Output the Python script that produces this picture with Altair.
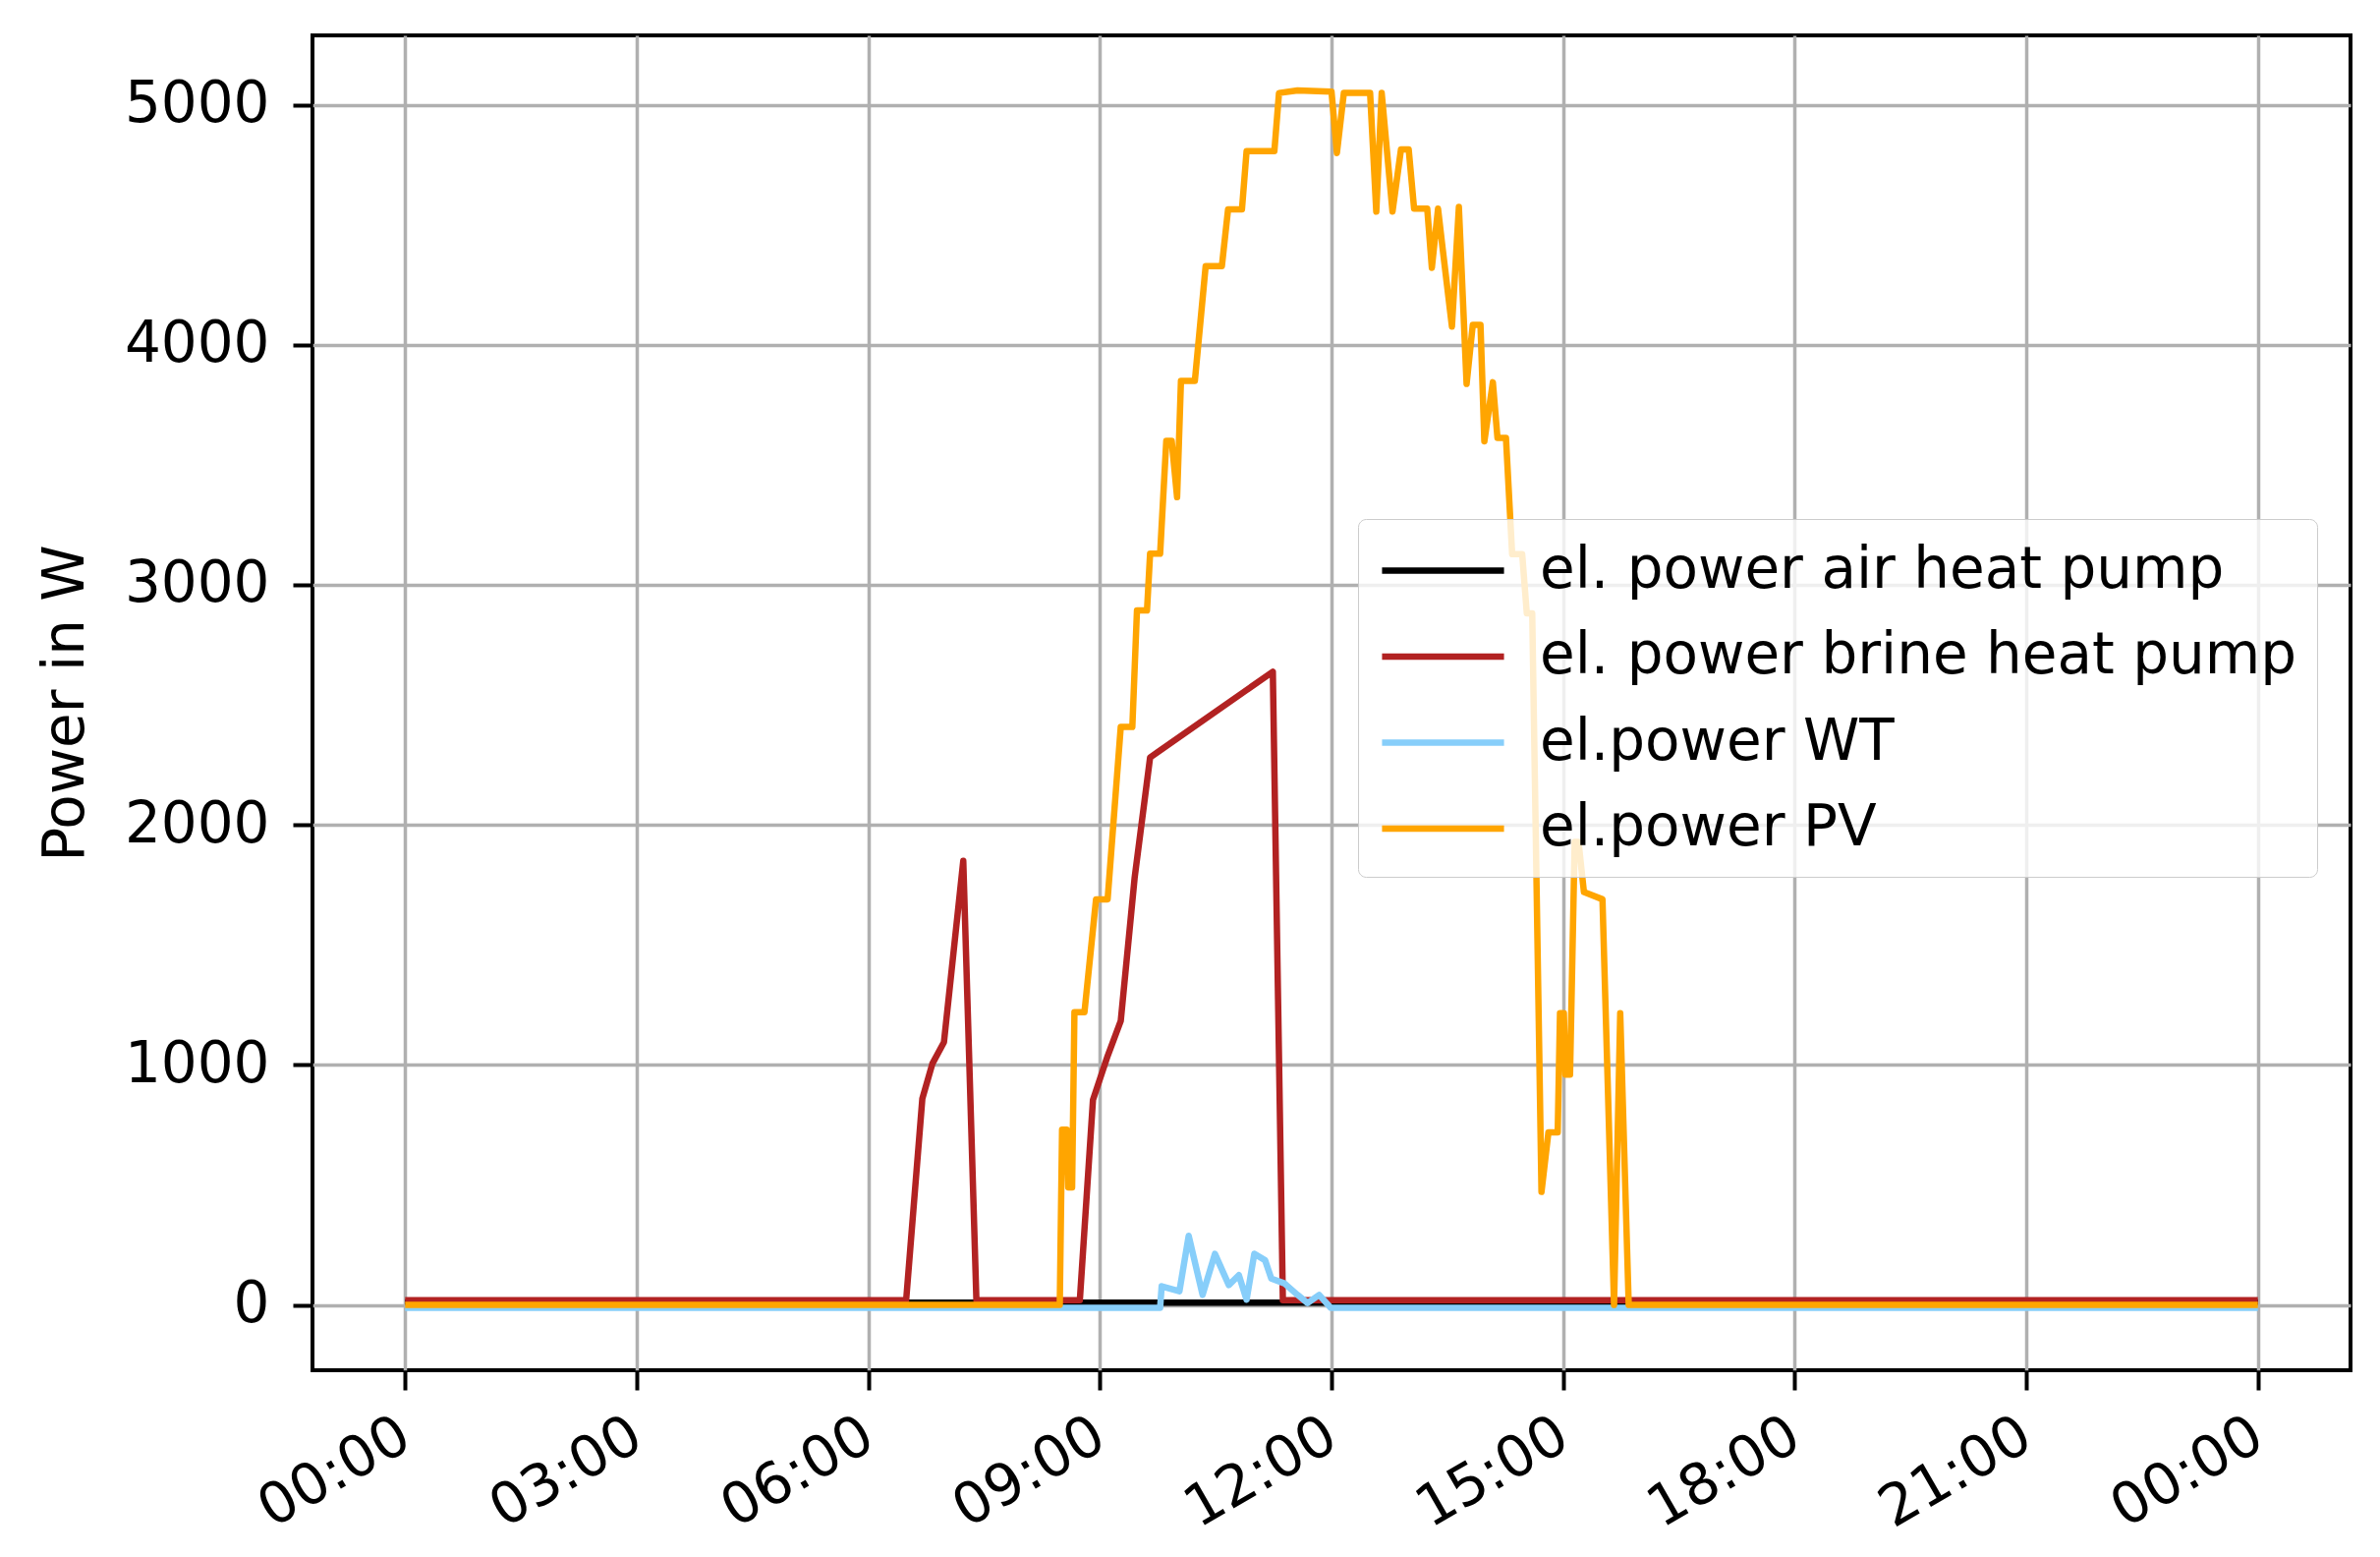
import altair as alt
import pandas as pd

series_names = ["el. power air heat pump", "el. power brine heat pump", "el.power WT", "el.power PV"]
series_colors = ["#000000", "#b22222", "#87cefa", "#ffa500"]

air_hours = [0, 24]
air_watts = [10, 10]

brine_hours = [0, 6.49, 6.70, 6.83, 6.98, 7.23, 7.40, 8.74, 8.91, 9.10, 9.27, 9.45, 9.65, 11.24, 11.37, 24]
brine_watts = [20, 20, 860, 1005, 1095, 1850, 20, 20, 854, 1037, 1183, 1780, 2281, 2638, 20, 20]

wt_hours = [0, 9.78, 9.80, 10.03, 10.15, 10.33, 10.49, 10.67, 10.80, 10.90, 11.00, 11.14, 11.22,
            11.39, 11.56, 11.69, 11.84, 11.99, 24]
wt_watts = [-12, -12, 78, 57, 288, 42, 213, 83, 124, 22, 213, 186, 110, 90, 42, 8, 42, -12, -12]

pv_hours = [0, 8.48, 8.51, 8.57, 8.59, 8.64, 8.67, 8.80, 8.95, 9.10, 9.27, 9.42, 9.48, 9.61, 9.65, 9.78,
            9.86, 9.93, 10.00, 10.05, 10.23, 10.37, 10.58, 10.66, 10.84, 10.90, 11.26, 11.32, 11.56, 12.00,
            12.07, 12.16, 12.50, 12.58, 12.65, 12.79, 12.90, 13.00, 13.07, 13.24, 13.30, 13.38, 13.44,
            13.56, 13.65, 13.75, 13.83, 13.93, 13.98, 14.09, 14.15, 14.26, 14.34, 14.47, 14.53, 14.60,
            14.72, 14.81, 14.93, 14.96, 15.01, 15.03, 15.09, 15.15, 15.20, 15.27, 15.51, 15.66, 15.74,
            15.85, 24]
pv_watts = [0, 0, 730, 730, 490, 490, 1220, 1220, 1690, 1690, 2408, 2408, 2893, 2893, 3130, 3130,
            3600, 3600, 3365, 3850, 3850, 4328, 4328, 4564, 4564, 4807, 4807, 5049, 5060, 5055,
            4799, 5049, 5049, 4555, 5049, 4555, 4814, 4814, 4567, 4567, 4321, 4567, 4400,
            4076, 4574, 3837, 4083, 4083, 3598, 3844, 3612, 3612, 3128, 3128, 2881, 2881,
            471, 719, 719, 1216, 1216, 960, 960, 1929, 1929, 1720, 1690, 0, 1216,
            0, 0]

x_ticks = [0, 3, 6, 9, 12, 15, 18, 21, 24]
y_ticks = [0, 1000, 2000, 3000, 4000, 5000]

frames = []
for name, hrs, vals in [
    (series_names[0], air_hours, air_watts),
    (series_names[1], brine_hours, brine_watts),
    (series_names[2], wt_hours, wt_watts),
    (series_names[3], pv_hours, pv_watts),
]:
    frames.append(pd.DataFrame({"hour": hrs, "watt": vals, "series": name}))

FONT = "DejaVu Sans"
FS = 58

x_enc = alt.X(
    "hour:Q",
    scale=alt.Scale(domain=[-1.2, 25.2], nice=False, zero=False),
    axis=alt.Axis(
        values=x_ticks,
        labelExpr="(datum.value % 24 < 10 ? '0' : '') + (datum.value % 24) + ':00'",
        labelAngle=330,
        labelAlign="right",
        labelBaseline="top",
        labelOffset=-14,
        labelPadding=17,
        labelOverlap=False,
        labelFlush=False,
        title=None,
    ),
)
y_enc = alt.Y(
    "watt:Q",
    scale=alt.Scale(domain=[-272, 5289], nice=False, zero=False),
    axis=alt.Axis(
        values=y_ticks,
        format="d",
        labelPadding=24,
        title="Power in W",
        titlePadding=30,
        titleFont=FONT,
        titleFontSize=FS,
        titleFontWeight="normal",
        titleColor="black",
    ),
)
color_enc = alt.Color(
    "series:N",
    scale=alt.Scale(domain=series_names, range=series_colors),
    legend=alt.Legend(
        title=None,
        orient="none",
        legendX=1064,
        legendY=492,
        symbolType="M-2.14,0H2.14",
        symbolSize=3364,
        symbolStrokeWidth=6.5,
        symbolOffset=34,
        labelFont=FONT,
        labelFontSize=FS,
        labelColor="black",
        labelOffset=66,
        labelLimit=1200,
        rowPadding=25.5,
        padding=20,
        fillColor="rgba(255,255,255,0.8)",
        strokeColor="#cccccc",
        cornerRadius=8,
    ),
)

layers = []
for f in frames:
    layers.append(
        alt.Chart(f)
        .mark_line(strokeWidth=6.5, strokeJoin="round")
        .encode(x=x_enc, y=y_enc, color=color_enc)
    )

chart = (
    alt.layer(*layers)
    .properties(
        width=2074,
        height=1358,
        autosize=alt.AutoSizeParams(type="none"),
        padding={"left": 310, "top": 28, "right": 22, "bottom": 182},
    )
    .configure_view(stroke="black", strokeWidth=4)
    .configure_axis(
        grid=True,
        gridColor="#b0b0b0",
        gridWidth=3.5,
        domain=False,
        ticks=True,
        tickColor="black",
        tickWidth=4,
        tickSize=20,
        labelFont=FONT,
        labelFontSize=FS,
        labelColor="black",
    )
)

chart.save("out.html", embed_options={"renderer": "svg", "actions": False})
